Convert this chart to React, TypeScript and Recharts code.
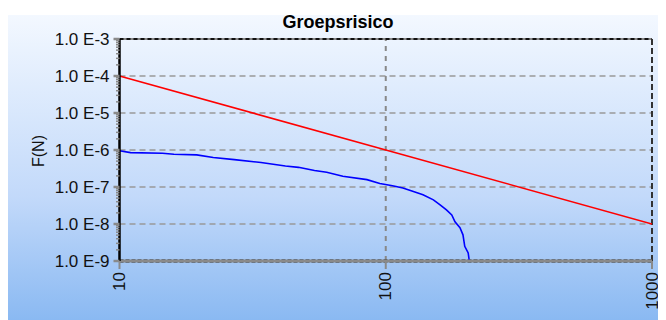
import React from 'react';
import { LineChart, Line, XAxis, YAxis, ReferenceLine } from 'recharts';

// N values (x, log) and F(N) values (y, log)
const xTicks = [10, 100, 1000];
const yMajor = [1e-9, 1e-8, 1e-7, 1e-6, 1e-5, 1e-4, 1e-3];
const yMinorSteps = [2, 3, 4, 5, 6, 7, 8, 9];

// orientation line (red)
const normN = [10, 1000];
const normF = [1e-4, 1e-8];

// group risk curve (blue)
const curveN = [10, 11, 14.5, 16, 19.5, 22.5, 27, 34, 42, 47, 54, 60, 69, 85, 95, 106, 116, 127, 138, 151, 160, 169, 177, 182, 190, 195, 198, 204, 206];
const curveF = [9.5e-7, 8.5e-7, 8.2e-7, 7.7e-7, 7.4e-7, 6.3e-7, 5.5e-7, 4.6e-7, 3.7e-7, 3.4e-7, 2.8e-7, 2.5e-7, 1.95e-7, 1.58e-7, 1.25e-7, 1.08e-7, 9.4e-8, 7.6e-8, 6.2e-8, 4.5e-8, 3.3e-8, 2.4e-8, 1.75e-8, 1.15e-8, 7.9e-9, 5.1e-9, 2.5e-9, 1.65e-9, 1e-9];

const normData = normN.map((n, i) => ({ n, f: normF[i] }));
const curveData = curveN.map((n, i) => ({ n, f: curveF[i] }));

const yTicks = [
  ...yMajor,
  ...yMajor.slice(0, -1).flatMap(m => yMinorSteps.map(s => s * m)),
].sort((a, b) => a - b);

const FONT = '"Liberation Sans", Arial, sans-serif';
const Y_TICK_SIZE = 5;
const Y_TICK_MARGIN = 5;

const YTick = (props: any) => {
  const { x, y, payload } = props;
  const v = payload.value;
  const exp = Math.round(Math.log10(v));
  const major = Math.abs(v - Math.pow(10, exp)) < v * 1e-6;
  const axisX = x + Y_TICK_SIZE + Y_TICK_MARGIN;
  return (
    <g>
      <line x1={axisX - (major ? 6 : 3.5)} x2={axisX} y1={y} y2={y} stroke="#8a8a8a" strokeWidth={major ? 2.5 : 1.5} />
      {major && (
        <text x={x} y={y} dy="0.36em" textAnchor="end" fontSize={17} fontFamily={FONT} fill="#111">
          {`1.0 E${exp}`}
        </text>
      )}
    </g>
  );
};

const XTick = (props: any) => {
  const { x, y, payload } = props;
  return (
    <text x={x} y={y} transform={`rotate(-90, ${x}, ${y})`} textAnchor="end" dominantBaseline="central"
      fontSize={17} fontFamily={FONT} fill="#111">
      {payload.value}
    </text>
  );
};

export default function App() {
  return (
    <div style={{ paddingTop: 7 }}>
      <div style={{
        position: 'relative', width: 658, height: 305,
        background: 'linear-gradient(#f3f8ff 0%, #d6e6fc 35%, #c2d9fa 60%, #8ab9f2 100%)',
      }}>
        <LineChart width={658} height={305} margin={{ top: 24, right: 14, left: 0, bottom: 0 }}>
          <XAxis dataKey="n" type="number" scale="log" domain={[10, 1000]} ticks={xTicks} interval={0}
            allowDataOverflow height={59} tick={<XTick />} tickSize={8} tickMargin={3}
            tickLine={{ stroke: '#8a8a8a', strokeWidth: 2 }} axisLine={{ stroke: '#8a8a8a', strokeWidth: 3 }} />
          <YAxis dataKey="f" type="number" scale="log" domain={[1e-9, 1e-3]} ticks={yTicks} interval={0}
            allowDataOverflow width={111.5} tick={<YTick />} tickLine={false} tickSize={Y_TICK_SIZE} tickMargin={Y_TICK_MARGIN}
            axisLine={{ stroke: '#000', strokeWidth: 2.5 }}
            label={{
              content: () => (
                <text x={30} y={136} transform="rotate(-90, 30, 136)" textAnchor="middle" dominantBaseline="central"
                  fontSize={16} fontFamily={FONT} fill="#111">F(N)</text>
              ),
            }} />
          {yMajor.slice(1, -1).map(v => (
            <ReferenceLine key={v} y={v} stroke="#999" strokeWidth={1.5} strokeDasharray="6 4" />
          ))}
          <ReferenceLine x={100} stroke="#888" strokeWidth={2} strokeDasharray="5 5" />
          <ReferenceLine y={1e-3} stroke="#888" strokeWidth={2} />
          <ReferenceLine y={1e-3} stroke="#111" strokeWidth={2} strokeDasharray="4 3" />
          <ReferenceLine y={1e-9} stroke="#000" strokeWidth={3} strokeDasharray="4 2" />
          <ReferenceLine x={1000} stroke="#333" strokeWidth={2} strokeDasharray="6 3" />
          <Line data={normData} dataKey="f" type="linear" stroke="#ff0000" strokeWidth={1.6} dot={false} isAnimationActive={false} />
          <Line data={curveData} dataKey="f" type="linear" stroke="#0000ff" strokeWidth={1.6} dot={false} isAnimationActive={false} />
        </LineChart>
        <svg width={658} height={34} style={{ position: 'absolute', left: 0, top: -10, overflow: 'visible' }}>
          <text x={330} y={22.5} textAnchor="middle" fontSize={18} fontWeight="bold" fontFamily={FONT} fill="#000">Groepsrisico</text>
        </svg>
      </div>
    </div>
  );
}
